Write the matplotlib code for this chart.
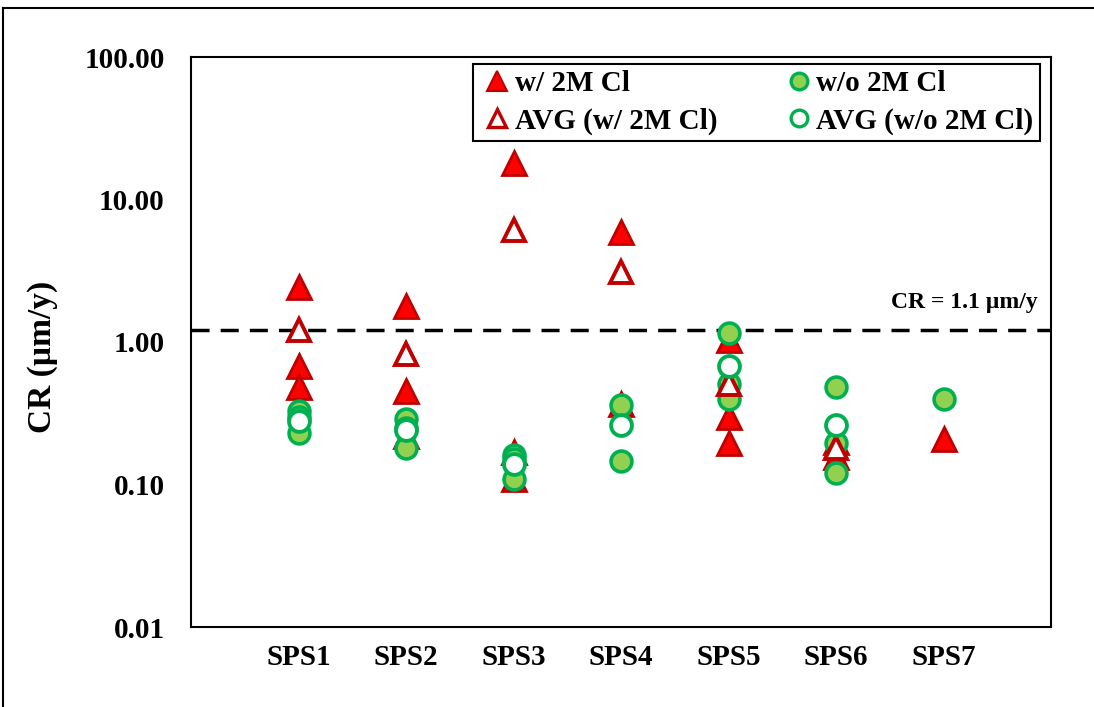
import matplotlib
matplotlib.use('Agg')
import matplotlib.pyplot as plt
from matplotlib.lines import Line2D

plt.rcParams['font.family'] = ['Liberation Serif', 'DejaVu Serif']
plt.rcParams['font.weight'] = 'bold'

categories = ['SPS1', 'SPS2', 'SPS3', 'SPS4', 'SPS5', 'SPS6', 'SPS7']

# w/ 2M Cl, individual samples (category index, CR)
w_cl_pos = [1, 1, 1, 2, 2, 2, 3, 3, 3, 4, 4, 5, 5, 5, 6, 6, 7]
w_cl_val = [2.45, 0.68, 0.48, 1.80, 0.45, 0.22, 18.0, 0.17, 0.11,
            5.9, 0.37, 1.03, 0.30, 0.195, 0.20, 0.155, 0.21]

# w/o 2M Cl, individual samples
wo_cl_pos = [1, 1, 1, 2, 2, 2, 3, 3, 3, 4, 4, 5, 5, 5, 6, 6, 6, 7]
wo_cl_val = [0.33, 0.30, 0.23, 0.29, 0.25, 0.18, 0.16, 0.15, 0.11,
             0.36, 0.146, 1.16, 0.51, 0.40, 0.48, 0.195, 0.12, 0.40]

# averages
avg_w_pos = [1, 2, 3, 4, 5, 6]
avg_w_val = [1.21, 0.82, 6.1, 3.1, 0.51, 0.18]
avg_wo_pos = [1, 2, 3, 4, 5, 6]
avg_wo_val = [0.28, 0.24, 0.14, 0.26, 0.68, 0.26]

cr_limit = 1.22

RED_F = '#FF0000'
RED_E = '#C00000'
GRN_F = '#92D050'
GRN_E = '#00B050'

fig = plt.figure(figsize=(10.94, 7.07), dpi=100)
ax = fig.add_axes([191/1094, 1-627/707, 860/1094, 570/707])

ax.plot(w_cl_pos, w_cl_val, ls='none', marker='^', ms=17, mfc=RED_F, mec=RED_E, mew=2, zorder=3)
ax.plot(wo_cl_pos, wo_cl_val, ls='none', marker='o', ms=15, mfc=GRN_F, mec=GRN_E, mew=2.6, zorder=4)
ax.plot(avg_w_pos, avg_w_val, ls='none', marker='^', ms=16, mfc='white', mec=RED_E, mew=2.8, zorder=5)
ax.plot(avg_wo_pos, avg_wo_val, ls='none', marker='o', ms=15, mfc='white', mec=GRN_E, mew=2.8, zorder=6)

ax.axhline(cr_limit, color='black', lw=2.5, ls=(0, (5.2, 3.2)), zorder=2)
ax.text(0.985, 0.570, 'CR = 1.1 µm/y', transform=ax.transAxes, ha='right', va='center',
        fontsize=17, fontweight='bold')

ax.set_yscale('log')
ax.set_ylim(0.01, 100)
ax.set_xlim(0, 8)
ax.set_yticks([0.01, 0.1, 1, 10, 100])
ax.set_yticklabels(['0.01', '0.10', '1.00', '10.00', '100.00'])
ax.minorticks_off()
ax.set_xticks(range(1, 8))
ax.set_xticklabels(categories)
ax.tick_params(axis='y', length=0, pad=19, labelsize=21)
ax.tick_params(axis='x', length=0, pad=12, labelsize=21)
for lab in ax.get_xticklabels() + ax.get_yticklabels():
    lab.set_fontweight('bold')
for sp in ax.spines.values():
    sp.set_linewidth(1.5)

ax.set_ylabel('CR (µm/y)', fontsize=24, fontweight='bold')
ax.yaxis.set_label_coords(-0.155, 0.474)

handles = [
    Line2D([], [], ls='none', marker='^', ms=14, mfc=RED_F, mec=RED_E, mew=1.5),
    Line2D([], [], ls='none', marker='^', ms=13, mfc='white', mec=RED_E, mew=2.4),
    Line2D([], [], ls='none', marker='o', ms=12, mfc=GRN_F, mec=GRN_E, mew=2.4),
    Line2D([], [], ls='none', marker='o', ms=12, mfc='white', mec=GRN_E, mew=2.4),
]
labels = ['w/ 2M Cl', 'AVG (w/ 2M Cl)', 'w/o 2M Cl', 'AVG (w/o 2M Cl)']
leg = ax.legend(handles, labels, ncol=2, loc='upper right', bbox_to_anchor=(0.987, 0.988),
                fancybox=False, edgecolor='black', framealpha=1, handlelength=1.2,
                handletextpad=0.0, columnspacing=2.2, borderpad=0.22, labelspacing=0.35,
                borderaxespad=0,
                prop={'family': 'Liberation Serif', 'weight': 'bold', 'size': 21})
leg.get_frame().set_linewidth(1.5)

# outer frame of the figure (only left and top edges visible in the crop)
fig.add_artist(Line2D([3/1094, 3/1094], [0, 1-8/707], color='black', lw=1.5, transform=fig.transFigure))
fig.add_artist(Line2D([3/1094, 1], [1-8/707, 1-8/707], color='black', lw=1.5, transform=fig.transFigure))

fig.savefig('out.png', dpi=100)
